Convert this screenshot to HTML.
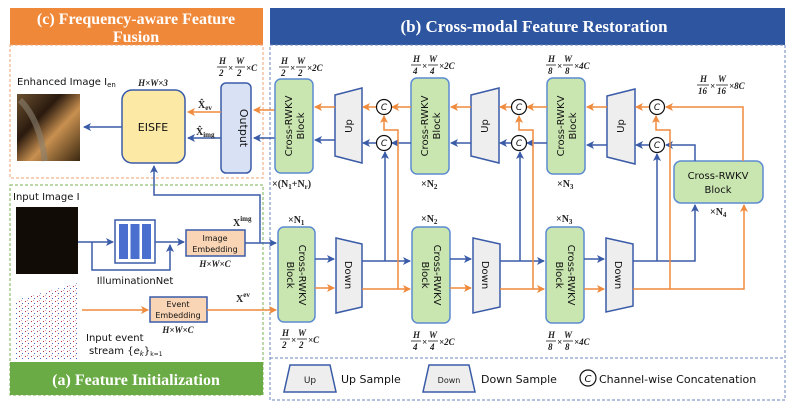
<!DOCTYPE html>
<html><head><meta charset="utf-8"><style>
html,body{margin:0;padding:0;background:#fff;}
svg{display:block;}
.s{font-family:"DejaVu Sans","Liberation Sans",sans-serif;}
.f{font-family:"Liberation Serif",serif;font-weight:bold;font-style:italic;font-size:9px;fill:#222;}
.n{font-family:"Liberation Serif",serif;font-weight:bold;font-size:10px;fill:#222;}
</style></head><body>
<svg width="793" height="405" viewBox="0 0 793 405" xmlns="http://www.w3.org/2000/svg">
<defs>
<marker id="ab" markerWidth="8" markerHeight="8" refX="7" refY="4" orient="auto" markerUnits="userSpaceOnUse"><path d="M0,0 L8,4 L0,8 L2,4 Z" fill="#3a5ba8"/></marker>
<marker id="ao" markerWidth="8" markerHeight="8" refX="7" refY="4" orient="auto" markerUnits="userSpaceOnUse"><path d="M0,0 L8,4 L0,8 L2,4 Z" fill="#f08a3c"/></marker>
<linearGradient id="enh" x1="0" y1="0" x2="1" y2="1"><stop offset="0" stop-color="#6b5030"/><stop offset="0.35" stop-color="#2a1a0e"/><stop offset="0.6" stop-color="#c89050"/><stop offset="1" stop-color="#3a2810"/></linearGradient>
<pattern id="ev" width="6" height="5" patternUnits="userSpaceOnUse"><rect width="6" height="5" fill="#fff"/><rect x="1" y="1" width="1" height="1" fill="#c03050"/><rect x="4" y="3" width="1" height="1" fill="#5060c0"/><rect x="3" y="0" width="1" height="1" fill="#e0a0b0"/></pattern>
</defs>

<!-- Panel headers -->
<rect x="10" y="8" width="253" height="37" fill="#f0883a"/>
<text x="136" y="24" text-anchor="middle" font-family="Liberation Serif" font-weight="bold" font-size="16" fill="#fff">(c) Frequency-aware Feature</text>
<text x="136" y="42" text-anchor="middle" font-family="Liberation Serif" font-weight="bold" font-size="16" fill="#fff">Fusion</text>
<rect x="270" y="8" width="515" height="37" fill="#2e55a0"/>
<text x="534" y="32" text-anchor="middle" font-family="Liberation Serif" font-weight="bold" font-size="17" fill="#fff">(b) Cross-modal Feature Restoration</text>

<!-- dashed borders -->
<rect x="10" y="45" width="253" height="133" fill="none" stroke="#f0a070" stroke-dasharray="3,2"/>
<rect x="10" y="185" width="253" height="210" fill="none" stroke="#7ab050" stroke-dasharray="3,2"/>
<rect x="270" y="45" width="515" height="355" fill="none" stroke="#6a86c0" stroke-dasharray="3,2"/>
<line x1="270" y1="358" x2="785" y2="358" stroke="#6a86c0" stroke-dasharray="3,2"/>
<rect x="10" y="362" width="253" height="33" fill="#6aab45"/>
<text x="136" y="385" text-anchor="middle" font-family="Liberation Serif" font-weight="bold" font-size="16" fill="#fff">(a) Feature Initialization</text>

<!-- Legend -->
<path d="M290,365 L330,365 L336,392 L284,392 Z" fill="#eeeeee" stroke="#3a5ba8" stroke-width="1.5"/>
<text x="310" y="383" text-anchor="middle" class="s" font-size="9" fill="#222">Up</text>
<text x="341" y="383" class="s" font-size="11" fill="#111">Up Sample</text>
<path d="M429,365 L469,365 L475,392 L423,392 Z" fill="#eeeeee" stroke="#3a5ba8" stroke-width="1.5"/>
<text x="449" y="383" text-anchor="middle" class="s" font-size="8" fill="#222">Down</text>
<text x="481" y="383" class="s" font-size="11" fill="#111">Down Sample</text>
<circle cx="588" cy="378" r="8" fill="#fff" stroke="#111" stroke-width="1.2"/>
<text x="588" y="382" text-anchor="middle" class="s" font-size="10" font-style="italic" fill="#111">C</text>
<text x="599" y="383" class="s" font-size="11" fill="#111">Channel-wise Concatenation</text>

<!-- (c) region -->
<text x="17" y="85" class="s" font-size="10" fill="#111">Enhanced Image I<tspan font-size="7" dy="2">en</tspan></text>
<rect x="17" y="94" width="63" height="67" fill="url(#enh)"/>
<path d="M20,100 Q40,120 45,161" stroke="#8a8070" stroke-width="6" fill="none" opacity="0.6"/>
<text x="153" y="86" text-anchor="middle" class="f">H×W×3</text>
<rect x="122" y="90" width="63" height="73" rx="10" fill="#fde9a6" stroke="#3a5ba8" stroke-width="1.5"/>
<text x="153" y="131" text-anchor="middle" class="s" font-size="11" fill="#111">EISFE</text>
<rect x="221" y="83" width="30" height="90" rx="5" fill="#d9e2f5" stroke="#3a5ba8" stroke-width="1.5"/>
<text transform="translate(240,128) rotate(90)" text-anchor="middle" class="s" font-size="11" fill="#111">Output</text>
<line x1="221" y1="112" x2="188" y2="112" stroke="#f08a3c" stroke-width="1.5" marker-end="url(#ao)"/>
<line x1="221" y1="138" x2="188" y2="138" stroke="#3a5ba8" stroke-width="1.5" marker-end="url(#ab)"/>
<text x="198" y="108" class="n" font-size="10">X̂<tspan font-size="7" dy="2">ev</tspan></text>
<text x="196" y="135" class="n" font-size="10">X̂<tspan font-size="7" dy="2">img</tspan></text>
<line x1="122" y1="127" x2="84" y2="127" stroke="#3a5ba8" stroke-width="1.5" marker-end="url(#ab)"/>
<line x1="275" y1="110" x2="254" y2="110" stroke="#f08a3c" stroke-width="1.5" marker-end="url(#ao)"/>
<line x1="275" y1="138" x2="254" y2="138" stroke="#3a5ba8" stroke-width="1.5" marker-end="url(#ab)"/>
<!-- fraction H/2 W/2 C -->
<g class="f"><text x="219" y="64">H</text><line x1="217" y1="67" x2="227" y2="67" stroke="#222" stroke-width="0.8"/><text x="219" y="76">2</text><text x="228" y="71">×</text><text x="236" y="64">W</text><line x1="235" y1="67" x2="245" y2="67" stroke="#222" stroke-width="0.8"/><text x="237" y="76">2</text><text x="246" y="71">×C</text></g>

<!-- path from x^img up to EISFE -->
<polyline points="260,243 260,195 154,195 154,166" fill="none" stroke="#3a5ba8" stroke-width="1.5" marker-end="url(#ab)"/>

<!-- (a) region -->
<text x="13" y="200" class="s" font-size="10" fill="#111">Input Image I</text>
<rect x="16" y="207" width="62" height="67" fill="#120c06"/>
<rect x="115" y="220" width="40" height="43" fill="#fff" stroke="#3a5ba8" stroke-width="1.5"/>
<rect x="119" y="224" width="9" height="35" fill="#4a6fcf"/><rect x="130.5" y="224" width="9" height="35" fill="#4a6fcf"/><rect x="142" y="224" width="9" height="35" fill="#4a6fcf"/>
<line x1="78" y1="242" x2="113" y2="242" stroke="#3a5ba8" stroke-width="1.5" marker-end="url(#ab)"/>
<polyline points="92,242 92,270 170,270 170,245" fill="none" stroke="#3a5ba8" stroke-width="1.5" marker-end="url(#ab)"/>
<line x1="155" y1="242" x2="184" y2="242" stroke="#3a5ba8" stroke-width="1.5" marker-end="url(#ab)"/>
<text x="135" y="284" text-anchor="middle" class="s" font-size="10" fill="#111">IlluminationNet</text>
<rect x="186" y="230" width="59" height="26" fill="#f9d5b5" stroke="#3a5ba8" stroke-width="1.5"/>
<text x="215" y="241" text-anchor="middle" class="s" font-size="8" fill="#111">Image</text>
<text x="215" y="252" text-anchor="middle" class="s" font-size="8" fill="#111">Embedding</text>
<text x="215" y="267" text-anchor="middle" class="f">H×W×C</text>
<line x1="245" y1="243" x2="276" y2="243" stroke="#3a5ba8" stroke-width="1.5" marker-end="url(#ab)"/>
<text x="233" y="226" class="n" font-size="11">X<tspan font-size="7" dy="-5">img</tspan></text>
<polygon points="16,300 78,283 78,360 16,360" fill="url(#ev)"/>
<line x1="82" y1="310" x2="148" y2="310" stroke="#f08a3c" stroke-width="1.5" marker-end="url(#ao)"/>
<rect x="150" y="297" width="57" height="25" fill="#f9d5b5" stroke="#3a5ba8" stroke-width="1.5"/>
<text x="178" y="307" text-anchor="middle" class="s" font-size="8" fill="#111">Event</text>
<text x="178" y="318" text-anchor="middle" class="s" font-size="8" fill="#111">Embedding</text>
<text x="178" y="333" text-anchor="middle" class="f">H×W×C</text>
<line x1="207" y1="310" x2="276" y2="310" stroke="#f08a3c" stroke-width="1.5" marker-end="url(#ao)"/>
<text x="236" y="302" class="n" font-size="11">X<tspan font-size="7" dy="-5">ev</tspan></text>
<text x="86" y="341" class="s" font-size="10" fill="#111">Input event</text>
<text x="89" y="354" class="s" font-size="10" fill="#111">stream {<tspan font-style="italic">e<tspan font-size="7" dy="2">k</tspan></tspan><tspan dy="-2">}</tspan><tspan font-size="6" dy="2">k=1</tspan></text>

<!-- Decoder blocks -->
<g stroke="#5b8bd0" stroke-width="1.5" fill="#c9e5b0">
<rect x="275" y="79" width="38" height="94" rx="6"/>
<rect x="411" y="78" width="38" height="96" rx="6"/>
<rect x="547" y="78" width="38" height="96" rx="6"/>
<rect x="674" y="161" width="89" height="42" rx="7"/>
<rect x="278" y="227" width="37" height="95" rx="6"/>
<rect x="412" y="227" width="38" height="96" rx="6"/>
<rect x="546" y="227" width="38" height="96" rx="6"/>
</g>
<g class="s" font-size="10" fill="#111" text-anchor="middle">
<text transform="translate(292,126) rotate(-90)">Cross-RWKV</text><text transform="translate(304,126) rotate(-90)">Block</text>
<text transform="translate(428,126) rotate(-90)">Cross-RWKV</text><text transform="translate(440,126) rotate(-90)">Block</text>
<text transform="translate(564,126) rotate(-90)">Cross-RWKV</text><text transform="translate(576,126) rotate(-90)">Block</text>
<text x="718" y="179">Cross-RWKV</text><text x="718" y="193">Block</text>
<text transform="translate(299,275) rotate(90)">Cross-RWKV</text><text transform="translate(287,275) rotate(90)">Block</text>
<text transform="translate(434,275) rotate(90)">Cross-RWKV</text><text transform="translate(422,275) rotate(90)">Block</text>
<text transform="translate(568,275) rotate(90)">Cross-RWKV</text><text transform="translate(556,275) rotate(90)">Block</text>
</g>

<!-- Up/Down trapezoids -->
<g stroke="#3a5ba8" stroke-width="1.5" fill="#eeeeee">
<path d="M335,95 L362,88 L362,163 L335,156 Z"/>
<path d="M471,95 L499,88 L499,163 L471,156 Z"/>
<path d="M607,96 L635,89 L635,164 L607,157 Z"/>
<path d="M336,238 L362,244 L362,307 L336,313 Z"/>
<path d="M473,238 L500,244 L500,307 L473,313 Z"/>
<path d="M606,238 L633,244 L633,306 L606,312 Z"/>
</g>
<g class="s" font-size="10" fill="#111" text-anchor="middle">
<text transform="translate(352,126) rotate(-90)">Up</text>
<text transform="translate(488,126) rotate(-90)">Up</text>
<text transform="translate(624,126) rotate(-90)">Up</text>
<text transform="translate(345,275) rotate(90)">Down</text>
<text transform="translate(482,275) rotate(90)">Down</text>
<text transform="translate(615,275) rotate(90)">Down</text>
</g>

<!-- decoder horizontal arrows -->
<g stroke-width="1.5" fill="none">
<line x1="335" y1="107" x2="315" y2="107" stroke="#f08a3c" marker-end="url(#ao)"/>
<line x1="335" y1="140" x2="315" y2="140" stroke="#3a5ba8" marker-end="url(#ab)"/>
<line x1="376" y1="107" x2="363" y2="107" stroke="#f08a3c" marker-end="url(#ao)"/>
<line x1="376" y1="143" x2="363" y2="143" stroke="#3a5ba8" marker-end="url(#ab)"/>
<line x1="411" y1="107" x2="392" y2="107" stroke="#f08a3c" marker-end="url(#ao)"/>
<line x1="411" y1="143" x2="392" y2="143" stroke="#3a5ba8" marker-end="url(#ab)"/>
<line x1="471" y1="107" x2="451" y2="107" stroke="#f08a3c" marker-end="url(#ao)"/>
<line x1="471" y1="143" x2="451" y2="143" stroke="#3a5ba8" marker-end="url(#ab)"/>
<line x1="511" y1="107" x2="500" y2="107" stroke="#f08a3c" marker-end="url(#ao)"/>
<line x1="511" y1="143" x2="500" y2="143" stroke="#3a5ba8" marker-end="url(#ab)"/>
<line x1="547" y1="107" x2="527" y2="107" stroke="#f08a3c" marker-end="url(#ao)"/>
<line x1="547" y1="143" x2="527" y2="143" stroke="#3a5ba8" marker-end="url(#ab)"/>
<line x1="607" y1="107" x2="587" y2="107" stroke="#f08a3c" marker-end="url(#ao)"/>
<line x1="607" y1="145" x2="587" y2="145" stroke="#3a5ba8" marker-end="url(#ab)"/>
<line x1="650" y1="107" x2="636" y2="107" stroke="#f08a3c" marker-end="url(#ao)"/>
<line x1="650" y1="145" x2="636" y2="145" stroke="#3a5ba8" marker-end="url(#ab)"/>
<polyline points="743,161 743,107 666,107" stroke="#f08a3c" marker-end="url(#ao)"/>
<polyline points="695,161 695,145 666,145" stroke="#3a5ba8" marker-end="url(#ab)"/>

<!-- encoder horizontal -->
<line x1="315" y1="259" x2="334" y2="259" stroke="#3a5ba8" marker-end="url(#ab)"/>
<line x1="315" y1="288" x2="334" y2="288" stroke="#f08a3c" marker-end="url(#ao)"/>
<line x1="362" y1="261" x2="410" y2="261" stroke="#3a5ba8" marker-end="url(#ab)"/>
<line x1="362" y1="289" x2="410" y2="289" stroke="#f08a3c" marker-end="url(#ao)"/>
<line x1="450" y1="259" x2="471" y2="259" stroke="#3a5ba8" marker-end="url(#ab)"/>
<line x1="450" y1="288" x2="471" y2="288" stroke="#f08a3c" marker-end="url(#ao)"/>
<line x1="500" y1="261" x2="544" y2="261" stroke="#3a5ba8" marker-end="url(#ab)"/>
<line x1="500" y1="289" x2="544" y2="289" stroke="#f08a3c" marker-end="url(#ao)"/>
<line x1="584" y1="259" x2="604" y2="259" stroke="#3a5ba8" marker-end="url(#ab)"/>
<line x1="584" y1="289" x2="604" y2="289" stroke="#f08a3c" marker-end="url(#ao)"/>
<polyline points="633,261 695,261 695,205" stroke="#3a5ba8" marker-end="url(#ab)"/>
<polyline points="633,289 744,289 744,205" stroke="#f08a3c" marker-end="url(#ao)"/>

<!-- skip connections -->
<line x1="385" y1="261" x2="385" y2="152" stroke="#3a5ba8" marker-end="url(#ab)"/>
<polyline points="398,289 398,130 384,130 384,116" stroke="#f08a3c" marker-end="url(#ao)"/>
<line x1="520" y1="261" x2="520" y2="152" stroke="#3a5ba8" marker-end="url(#ab)"/>
<polyline points="533,289 533,130 519,130 519,116" stroke="#f08a3c" marker-end="url(#ao)"/>
<line x1="657" y1="261" x2="657" y2="154" stroke="#3a5ba8" marker-end="url(#ab)"/>
<polyline points="670,289 670,130 656,130 656,116" stroke="#f08a3c" marker-end="url(#ao)"/>
</g>

<!-- C circles -->
<g fill="#fff" stroke="#111" stroke-width="1.2">
<circle cx="384" cy="107" r="7.5"/><circle cx="384" cy="143" r="7.5"/>
<circle cx="519" cy="107" r="7.5"/><circle cx="519" cy="143" r="7.5"/>
<circle cx="657" cy="107" r="7.5"/><circle cx="657" cy="145" r="7.5"/>
</g>
<g class="s" font-size="9" font-style="italic" fill="#111" text-anchor="middle">
<text x="384" y="110">C</text><text x="384" y="146">C</text>
<text x="519" y="110">C</text><text x="519" y="146">C</text>
<text x="657" y="110">C</text><text x="657" y="148">C</text>
</g>

<!-- multiplicity labels -->
<g class="n">
<text x="272" y="187">×(N<tspan font-size="7" dy="2">1</tspan><tspan dy="-2">+N</tspan><tspan font-size="7" dy="2">r</tspan><tspan dy="-2">)</tspan></text>
<text x="421" y="187">×N<tspan font-size="7" dy="2">2</tspan></text>
<text x="557" y="187">×N<tspan font-size="7" dy="2">3</tspan></text>
<text x="710" y="215">×N<tspan font-size="7" dy="2">4</tspan></text>
<text x="288" y="223">×N<tspan font-size="7" dy="2">1</tspan></text>
<text x="421" y="222">×N<tspan font-size="7" dy="2">2</tspan></text>
<text x="556" y="222">×N<tspan font-size="7" dy="2">3</tspan></text>
</g>

<!-- fraction labels -->
<g class="f">
<g transform="translate(279,60)"><text x="2" y="4">H</text><line x1="0" y1="7" x2="10" y2="7" stroke="#222" stroke-width="0.8"/><text x="2" y="16">2</text><text x="11" y="11">×</text><text x="18" y="4">W</text><line x1="17" y1="7" x2="27" y2="7" stroke="#222" stroke-width="0.8"/><text x="19" y="16">2</text><text x="28" y="11">×2C</text></g>
<g transform="translate(411,58)"><text x="2" y="4">H</text><line x1="0" y1="7" x2="10" y2="7" stroke="#222" stroke-width="0.8"/><text x="2" y="16">4</text><text x="11" y="11">×</text><text x="18" y="4">W</text><line x1="17" y1="7" x2="27" y2="7" stroke="#222" stroke-width="0.8"/><text x="19" y="16">4</text><text x="28" y="11">×2C</text></g>
<g transform="translate(546,58)"><text x="2" y="4">H</text><line x1="0" y1="7" x2="10" y2="7" stroke="#222" stroke-width="0.8"/><text x="2" y="16">8</text><text x="11" y="11">×</text><text x="18" y="4">W</text><line x1="17" y1="7" x2="27" y2="7" stroke="#222" stroke-width="0.8"/><text x="19" y="16">8</text><text x="28" y="11">×4C</text></g>
<g transform="translate(697,78)"><text x="3" y="4">H</text><line x1="0" y1="7" x2="12" y2="7" stroke="#222" stroke-width="0.8"/><text x="1" y="16">16</text><text x="13" y="11">×</text><text x="21" y="4">W</text><line x1="19" y1="7" x2="31" y2="7" stroke="#222" stroke-width="0.8"/><text x="20" y="16">16</text><text x="32" y="11">×8C</text></g>
<g transform="translate(280,332)"><text x="2" y="4">H</text><line x1="0" y1="7" x2="10" y2="7" stroke="#222" stroke-width="0.8"/><text x="2" y="16">2</text><text x="11" y="11">×</text><text x="18" y="4">W</text><line x1="17" y1="7" x2="27" y2="7" stroke="#222" stroke-width="0.8"/><text x="19" y="16">2</text><text x="28" y="11">×C</text></g>
<g transform="translate(411,334)"><text x="2" y="4">H</text><line x1="0" y1="7" x2="10" y2="7" stroke="#222" stroke-width="0.8"/><text x="2" y="16">4</text><text x="11" y="11">×</text><text x="18" y="4">W</text><line x1="17" y1="7" x2="27" y2="7" stroke="#222" stroke-width="0.8"/><text x="19" y="16">4</text><text x="28" y="11">×2C</text></g>
<g transform="translate(546,334)"><text x="2" y="4">H</text><line x1="0" y1="7" x2="10" y2="7" stroke="#222" stroke-width="0.8"/><text x="2" y="16">8</text><text x="11" y="11">×</text><text x="18" y="4">W</text><line x1="17" y1="7" x2="27" y2="7" stroke="#222" stroke-width="0.8"/><text x="19" y="16">8</text><text x="28" y="11">×4C</text></g>
</g>
</svg>
</body></html>
